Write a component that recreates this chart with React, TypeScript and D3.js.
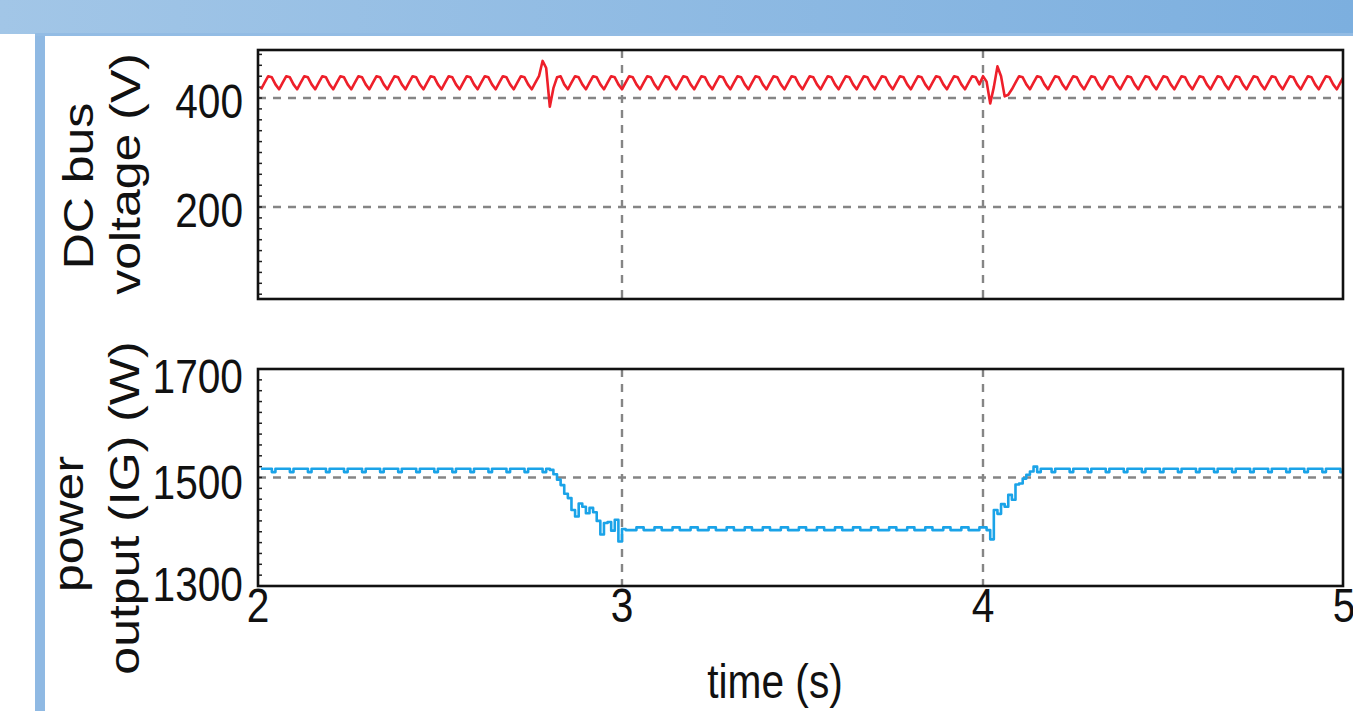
import React from 'react';
import * as d3 from 'd3';

// time grid: first sample and step (s)
const T0 = 2;
const DT = 0.01;

const xTicks = [2, 3, 4, 5];
const voltTicks = [200, 400];
const powerTicks = [1300, 1500, 1700];

// DC bus voltage (V), sampled every 0.01 s from t = 2.00 s to 5.00 s
const dcBusVoltage = [
  416, 428, 440, 438, 425, 416, 428, 440, 438, 425, 416, 428, 440, 438, 425,
  416, 428, 440, 438, 425, 416, 428, 440, 438, 425, 416, 428, 440, 438, 425,
  416, 428, 440, 438, 425, 416, 428, 440, 438, 425, 416, 428, 440, 438, 425,
  416, 428, 440, 438, 425, 416, 428, 440, 438, 425, 416, 428, 440, 438, 425,
  416, 428, 440, 438, 425, 416, 428, 440, 438, 425, 416, 428, 440, 438, 425,
  416, 428, 440, 468, 455,
  384, 418, 438, 440, 425,
  416, 428, 440, 438, 425, 416, 428, 440, 438, 425, 416, 428, 440, 438, 425,
  416, 428, 440, 438, 425, 416, 428, 440, 438, 425, 416, 428, 440, 438, 425,
  416, 428, 440, 438, 425, 416, 428, 440, 438, 425, 416, 428, 440, 438, 425,
  416, 428, 440, 438, 425, 416, 428, 440, 438, 425, 416, 428, 440, 438, 425,
  416, 428, 440, 438, 425, 416, 428, 440, 438, 425, 416, 428, 440, 438, 425,
  416, 428, 440, 438, 425, 416, 428, 440, 438, 425, 416, 428, 440, 438, 425,
  416, 428, 440, 438, 425, 416, 428, 440, 438, 425, 416, 428, 440, 438, 425,
  416, 428, 440, 438, 425, 416, 428, 440, 438, 425,
  440, 430, 390, 420, 458,
  440, 403, 406, 416, 428,
  440, 438, 425, 416, 428, 440, 438, 425, 416, 428, 440, 438, 425, 416, 428,
  440, 438, 425, 416, 428, 440, 438, 425, 416, 428, 440, 438, 425, 416, 428,
  440, 438, 425, 416, 428, 440, 438, 425, 416, 428, 440, 438, 425, 416, 428,
  440, 438, 425, 416, 428, 440, 438, 425, 416, 428, 440, 438, 425, 416, 428,
  440, 438, 425, 416, 428, 440, 438, 425, 416, 428, 440, 438, 425, 416, 428,
  440, 438, 425, 416, 428, 440, 438, 425, 416, 428, 440, 438, 425, 416, 428,
  440,
];

// IG power output (W), sampled every 0.01 s from t = 2.00 s to 5.00 s
const powerOutput = [
  1516, 1516, 1516, 1510, 1516, 1516, 1516, 1516, 1510, 1516, 1516, 1516, 1516, 1510, 1516,
  1516, 1516, 1516, 1510, 1516, 1516, 1516, 1516, 1510, 1516, 1516, 1516, 1516, 1510, 1516,
  1516, 1516, 1516, 1510, 1516, 1516, 1516, 1516, 1510, 1516, 1516, 1516, 1516, 1510, 1516,
  1516, 1516, 1516, 1510, 1516, 1516, 1516, 1516, 1510, 1516, 1516, 1516, 1516, 1510, 1516,
  1516, 1516, 1516, 1510, 1516, 1516, 1516, 1516, 1510, 1516, 1516, 1516, 1516, 1510, 1516,
  1516, 1516, 1516, 1510, 1516,
  1514, 1506, 1496, 1486, 1470, 1462, 1440, 1428, 1452, 1446, 1434, 1444, 1436, 1420, 1395,
  1416, 1418, 1402, 1422, 1382, 1405,
  1403, 1403, 1403, 1408, 1408, 1403, 1403, 1403, 1408, 1408, 1403, 1403, 1403, 1408, 1408,
  1403, 1403, 1403, 1408, 1408, 1403, 1403, 1403, 1408, 1408, 1403, 1403, 1403, 1408, 1408,
  1403, 1403, 1403, 1408, 1408, 1403, 1403, 1403, 1408, 1408, 1403, 1403, 1403, 1408, 1408,
  1403, 1403, 1403, 1408, 1408, 1403, 1403, 1403, 1408, 1408, 1403, 1403, 1403, 1408, 1408,
  1403, 1403, 1403, 1408, 1408, 1403, 1403, 1403, 1408, 1408, 1403, 1403, 1403, 1408, 1408,
  1403, 1403, 1403, 1408, 1408, 1403, 1403, 1403, 1408, 1408, 1403, 1403, 1403, 1408, 1408,
  1403, 1403, 1403, 1408, 1408, 1403, 1403, 1403, 1408, 1408,
  1403, 1386, 1440, 1433, 1451, 1446, 1468, 1459, 1487, 1489, 1498, 1505, 1511, 1520, 1510,
  1516, 1516, 1516, 1510, 1516, 1516, 1516, 1516, 1510, 1516, 1516, 1516, 1516, 1510, 1516,
  1516, 1516, 1516, 1510, 1516, 1516, 1516, 1516, 1510, 1516, 1516, 1516, 1516, 1510, 1516,
  1516, 1516, 1516, 1510, 1516, 1516, 1516, 1516, 1510, 1516, 1516, 1516, 1516, 1510, 1516,
  1516, 1516, 1516, 1510, 1516, 1516, 1516, 1516, 1510, 1516, 1516, 1516, 1516, 1510, 1516,
  1516, 1516, 1516, 1510, 1516, 1516, 1516, 1516, 1510, 1516, 1516, 1516, 1516, 1510, 1516,
  1516, 1516, 1516, 1510, 1516, 1516, 1516, 1516, 1510, 1516,
];

const FONT = '"Liberation Sans", Arial, Helvetica, sans-serif';
const SX = 0.83;

export default function App() {
  const W = 1353;
  const H = 711;
  const frameL = 258;
  const frameR = 1343;
  const top1 = 50, bot1 = 299;
  const top2 = 369, bot2 = 586;

  const x = d3.scaleLinear().domain([2, 5]).range([261, 1344]);
  const yV = d3.scaleLinear().domain([200, 400]).range([207, 98]);
  const yP = d3.scaleLinear().domain([1300, 1700]).range([bot2, top2]);

  const vMin = yV.invert(bot1);
  const vMax = yV.invert(top1);

  const lineV = d3
    .line<number>()
    .x((_, i) => x(T0 + i * DT))
    .y((v) => yV(v))
    .curve(d3.curveLinear);
  const lineP = d3
    .line<number>()
    .x((_, i) => x(T0 + i * DT))
    .y((v) => yP(v))
    .curve(d3.curveStepAfter);

  const minorV = d3.range(Math.ceil(vMin / 20) * 20, vMax, 20);
  const minorP = d3.range(1320, 1700, 20);

  const grid = { stroke: '#858585', strokeWidth: 2.4, strokeDasharray: '8,7' };

  const tickLabel = (txt: string, xx: number, yy: number, anchor: string) => (
    <text
      key={txt + yy}
      transform={`translate(${xx},${yy}) scale(${SX},1)`}
      textAnchor={anchor}
      fontFamily={FONT}
      fontSize={49}
      fill="#111"
    >
      {txt}
    </text>
  );

  const rotLabel = (txt: string, bx: number, cy: number) => (
    <text
      key={txt}
      transform={`translate(${bx},${cy}) rotate(-90) scale(1,0.86)`}
      textAnchor="middle"
      fontFamily={FONT}
      fontSize={50}
      fill="#111"
    >
      {txt}
    </text>
  );

  const yLabelOffset: Record<number, number> = { 1300: 15, 1500: 21, 1700: 24 };

  return (
    <svg
      width={W}
      height={H}
      style={{ position: 'absolute', left: 0, top: 0, background: '#fff' }}
    >
      <defs>
        <linearGradient id="band" x1="0" x2="1" y1="0" y2="0">
          <stop offset="0" stopColor="#a2c6e7" />
          <stop offset="1" stopColor="#7cafdf" />
        </linearGradient>
        <clipPath id="clip1">
          <rect x={frameL} y={top1} width={frameR - frameL} height={bot1 - top1} />
        </clipPath>
        <clipPath id="clip2">
          <rect x={frameL} y={top2} width={frameR - frameL} height={bot2 - top2} />
        </clipPath>
      </defs>

      <rect x={0} y={0} width={W} height={H} fill="#fff" />
      <rect x={0} y={0} width={W} height={34} fill="url(#band)" />
      <rect x={35} y={33} width={10} height={H - 33} fill="#8fb9e3" />
      <rect x={35} y={33} width={W - 35} height={3} fill="#93bce4" />

      {/* top panel grid */}
      {voltTicks.map((v) => (
        <line key={'gv' + v} x1={frameL} x2={frameR} y1={yV(v)} y2={yV(v)} {...grid} />
      ))}
      {[3, 4].map((t) => (
        <line key={'gt1' + t} x1={x(t)} x2={x(t)} y1={top1} y2={bot1} {...grid} />
      ))}
      {/* bottom panel grid */}
      {[1500].map((p) => (
        <line key={'gp' + p} x1={frameL} x2={frameR} y1={yP(p)} y2={yP(p)} {...grid} />
      ))}
      {[3, 4].map((t) => (
        <line key={'gt2' + t} x1={x(t)} x2={x(t)} y1={top2} y2={bot2} {...grid} />
      ))}

      {/* minor ticks */}
      {minorV.map((v) => (
        <line key={'mv' + v} x1={frameL} x2={frameL + 4} y1={yV(v)} y2={yV(v)} stroke="#222" strokeWidth={1.5} />
      ))}
      {minorP.map((p) => (
        <line key={'mp' + p} x1={frameL} x2={frameL + 4} y1={yP(p)} y2={yP(p)} stroke="#222" strokeWidth={1.5} />
      ))}

      {/* data */}
      <g clipPath="url(#clip1)">
        <path d={lineV(dcBusVoltage) || ''} fill="none" stroke="#ee1f2a" strokeWidth={2.6} strokeLinejoin="round" />
      </g>
      <g clipPath="url(#clip2)">
        <path d={lineP(powerOutput) || ''} fill="none" stroke="#1aa3e8" strokeWidth={2.6} strokeLinejoin="round" />
      </g>

      {/* frames */}
      <rect x={frameL} y={top1} width={frameR - frameL} height={bot1 - top1} fill="none" stroke="#111" strokeWidth={2.6} />
      <rect x={frameL} y={top2} width={frameR - frameL} height={bot2 - top2} fill="none" stroke="#111" strokeWidth={2.6} />

      {/* y tick labels */}
      {voltTicks.map((v) => tickLabel(String(v), 243, yV(v) + 20, 'end'))}
      {powerTicks.map((p) => tickLabel(String(p), 243, yP(p) + yLabelOffset[p], 'end'))}

      {/* x tick labels */}
      {xTicks.map((t) => tickLabel(String(t), t === 2 ? frameL : x(t), 622, 'middle'))}

      {/* axis titles */}
      {tickLabel('time (s)', 775, 698, 'middle')}
      {rotLabel('DC bus', 93, 186)}
      {rotLabel('voltage (V)', 140, 174)}
      {rotLabel('power', 83, 524)}
      {rotLabel('output (IG) (W)', 139, 508)}
    </svg>
  );
}
